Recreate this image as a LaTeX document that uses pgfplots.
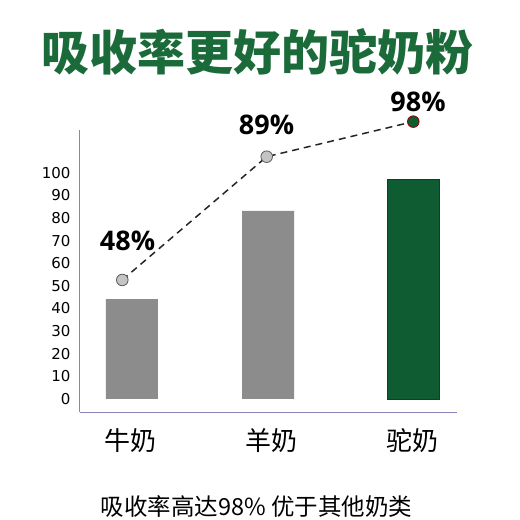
\documentclass[border=0pt]{standalone}
\usepackage{fontspec}
\usepackage{pgfplots}
\pgfplotsset{compat=1.18}
\setmainfont{DejaVu Sans}
\newfontfamily\cjk{Noto Sans CJK SC}
\newfontfamily\cjkblack{Noto Sans CJK SC Black}
\newfontfamily\pctfont{Open Sans}
\definecolor{titlegreen}{HTML}{1B6B3A}
\definecolor{camelgreen}{HTML}{0F5C32}
\definecolor{milkgray}{HTML}{8C8C8C}
\definecolor{dotgray}{HTML}{C4C4C4}
\definecolor{axisline}{HTML}{8A84B8}

% values (y in tick units, x in pixel positions)
\pgfplotstableread{
x     y
131.8 44.1
268.0 83.1
}\graybars
\pgfplotstableread{
x     y
413.0 97.1
}\greenbar
\pgfplotstableread{
x     y
122.3 52.6
266.7 107.1
413.3 122.6
}\rates

\begin{document}
\begin{tikzpicture}
  \fill[white] (0pt,0pt) rectangle (520pt,520pt);
  \path[use as bounding box] (0pt,0pt) rectangle (520pt,520pt);

  \node[text=titlegreen, font=\cjkblack\fontsize{48}{52}\selectfont, inner sep=0pt]
    at (257.5pt,468pt) {吸收率更好的驼奶粉};

  \begin{axis}[
    at={(80pt,107.7pt)}, anchor=south west,
    scale only axis,
    width=376.7pt, height=282.3pt,
    xmin=80, xmax=456.7,
    ymin=-5.9, ymax=118.9,
    axis x line*=bottom,
    axis y line*=left,
    axis line style={-, color=axisline, line width=1pt},
    xtick=\empty,
    ytick={0,10,...,100},
    major tick length=0pt,
    /pgf/number format/assume math mode=true,
    yticklabel style={font=\fontsize{15}{17}\selectfont, anchor=east, xshift=-6pt},
    clip=false,
  ]
    \addplot[ybar, bar width=52, fill=milkgray, draw=none] table[x=x, y=y] {\graybars};
    \addplot[ybar, bar width=52, fill=camelgreen, draw=red!60!black, line width=0.6pt] table[x=x, y=y] {\greenbar};
    \addplot[black!85, dash pattern=on 7pt off 5pt, line width=1.5pt, no marks] table[x=x, y=y] {\rates};
    \addplot[only marks, mark=*, mark size=5.8pt, mark options={fill=dotgray, draw=black!65, line width=0.8pt}]
      coordinates {(122.3,52.6) (266.7,107.1)};
    \addplot[only marks, mark=*, mark size=5.8pt, mark options={fill=camelgreen, draw=red!55!black, line width=0.8pt}]
      coordinates {(413.3,122.6)};
  \end{axis}

  \begin{scope}[every node/.style={font=\pctfont\bfseries\fontsize{27}{30}\selectfont, inner sep=0pt}]
    \node at (127.5pt,278.8pt) {48\%};
    \node at (266.5pt,395pt) {89\%};
    \node at (418pt,418.3pt) {98\%};
  \end{scope}

  \begin{scope}[every node/.style={font=\cjk\fontsize{26}{30}\selectfont, inner sep=0pt}]
    \node at (130pt,79pt) {牛奶};
    \node at (271pt,79pt) {羊奶};
    \node at (412pt,79pt) {驼奶};
  \end{scope}

  \node[font=\cjk\fontsize{23.5}{26}\selectfont, inner sep=0pt] at (256.7pt,13pt) {吸收率高达98\% 优于其他奶类};
\end{tikzpicture}
\end{document}
